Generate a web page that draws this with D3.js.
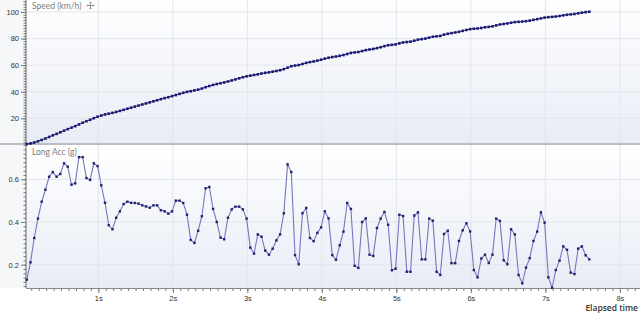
<!DOCTYPE html>
<html lang="en">
<head>
<meta charset="UTF-8">
<title>Speed / Long Acc</title>
<script src="https://d3js.org/d3.v7.min.js"></script>
<style>
  body { margin: 0; background: #fff; }
  svg { display: block; font-family: "Open Sans", "Noto Sans", sans-serif; }
  .tick-label { font-size: 7.5px; fill: #333; }
  .panel-title { font-family: Lato, "Noto Sans", sans-serif; font-size: 8.5px; fill: #808080; }
</style>
</head>
<body>
<svg width="640" height="313"></svg>
<script>
// sampling: 20 Hz, first sample at 0.04 s
const t0 = 0.04, dt = 0.05;

// Speed (km/h), one value per sample
const speed = [
  0.6, 1.1, 1.8, 2.7, 3.7, 4.8, 6.0, 7.2, 8.3, 9.5,
  10.7, 11.9, 13.0, 14.1, 15.4, 16.7, 17.8, 18.9, 20.1, 21.2,
  22.1, 22.9, 23.5, 24.1, 24.8, 25.6, 26.4, 27.2, 28.0, 28.8,
  29.6, 30.4, 31.2, 32.0, 32.8, 33.6, 34.4, 35.2, 35.9, 36.7,
  37.5, 38.4, 39.2, 39.9, 40.4, 41.0, 41.6, 42.4, 43.4, 44.3,
  45.1, 45.8, 46.4, 47.0, 47.7, 48.5, 49.3, 50.1, 50.9, 51.6,
  52.1, 52.6, 53.1, 53.7, 54.2, 54.6, 55.1, 55.6, 56.2, 57.0,
  58.1, 59.2, 59.7, 60.1, 60.9, 61.7, 62.3, 62.8, 63.4, 64.1,
  64.9, 65.6, 66.1, 66.5, 67.0, 67.6, 68.4, 69.2, 69.6, 69.9,
  70.6, 71.3, 71.8, 72.2, 72.8, 73.5, 74.3, 75.0, 75.3, 75.6,
  76.4, 77.1, 77.4, 77.7, 78.4, 79.2, 79.6, 80.0, 80.7, 81.4,
  81.7, 82.0, 83.0, 83.6, 84.1, 84.6, 85.1, 85.8, 86.5, 87.1,
  87.4, 87.6, 88.0, 88.5, 88.8, 89.2, 89.9, 90.6, 91.0, 91.4,
  91.9, 92.4, 92.6, 92.8, 93.1, 93.5, 94.1, 94.6, 95.2, 95.8,
  96.1, 96.3, 96.6, 97.0, 97.5, 97.9, 98.2, 98.5, 99.0, 99.5,
  99.9, 100.2
];

// Longitudinal acceleration (g), one value per sample
const longAcc = [
  0.13, 0.211, 0.325, 0.416, 0.495, 0.551, 0.612, 0.634, 0.612, 0.625,
  0.675, 0.659, 0.575, 0.581, 0.704, 0.704, 0.606, 0.597, 0.675, 0.662,
  0.572, 0.49, 0.385, 0.366, 0.42, 0.45, 0.484, 0.495, 0.49, 0.489,
  0.486, 0.478, 0.473, 0.467, 0.478, 0.478, 0.455, 0.45, 0.439, 0.45,
  0.5, 0.5, 0.489, 0.434, 0.316, 0.302, 0.359, 0.427, 0.558, 0.564,
  0.461, 0.4, 0.327, 0.319, 0.42, 0.459, 0.472, 0.472, 0.459, 0.416,
  0.28, 0.252, 0.342, 0.331, 0.266, 0.247, 0.275, 0.314, 0.342, 0.441,
  0.67, 0.634, 0.245, 0.202, 0.441, 0.466, 0.325, 0.31, 0.349, 0.375,
  0.45, 0.417, 0.245, 0.223, 0.291, 0.355, 0.489, 0.461, 0.195, 0.185,
  0.4, 0.417, 0.247, 0.241, 0.372, 0.416, 0.447, 0.387, 0.174, 0.181,
  0.434, 0.428, 0.167, 0.167, 0.43, 0.445, 0.225, 0.225, 0.416, 0.406,
  0.167, 0.152, 0.344, 0.359, 0.207, 0.207, 0.311, 0.361, 0.394, 0.356,
  0.175, 0.141, 0.229, 0.247, 0.208, 0.247, 0.416, 0.405, 0.221, 0.202,
  0.366, 0.342, 0.152, 0.113, 0.186, 0.231, 0.311, 0.355, 0.445, 0.397,
  0.141, 0.092, 0.175, 0.219, 0.286, 0.27, 0.163, 0.156, 0.275, 0.286,
  0.244, 0.225
];

const speedTicks = [20, 40, 60, 80, 100];
const accTicks = [0.2, 0.4, 0.6];
const timeTicks = [1, 2, 3, 4, 5, 6, 7, 8];

const W = 640, H = 313;
const axisX = 26;
const svg = d3.select("svg");

const samples = speed.map((v, i) => ({ t: t0 + i * dt, speed: v, acc: longAcc[i] }));

const x = d3.scaleLinear().domain([0, 8.27]).range([23.8, 640]);
const ySpeed = d3.scaleLinear().domain([0, 100]).range([144.9, 12]);
const yAcc = d3.scaleLinear().domain([0.2, 0.6]).range([264.7, 179.3]);

const panelTop = { y0: 0, y1: 143 };
const panelBot = { y0: 145, y1: 288 };

// background gradients
const defs = svg.append("defs");
const grad = defs.append("linearGradient").attr("id", "bg").attr("x1", 0).attr("y1", 0).attr("x2", 0).attr("y2", 1);
grad.append("stop").attr("offset", "0%").attr("stop-color", "#ffffff");
grad.append("stop").attr("offset", "100%").attr("stop-color", "#e8ecf5");

svg.append("rect").attr("width", W).attr("height", H).attr("fill", "#f6f7f9");
svg.append("rect").attr("x", 0).attr("y", panelBot.y1).attr("width", W).attr("height", H - panelBot.y1).attr("fill", "#ffffff");

[panelTop, panelBot].forEach(p => {
  svg.append("rect").attr("x", axisX).attr("y", p.y0).attr("width", W - axisX).attr("height", p.y1 - p.y0).attr("fill", "url(#bg)");
});

// vertical grid
[panelTop, panelBot].forEach(p => {
  svg.append("g").selectAll("line").data(timeTicks).join("line")
    .attr("x1", d => x(d)).attr("x2", d => x(d))
    .attr("y1", p.y0).attr("y2", p.y1)
    .attr("stroke", "#e2e5ec").attr("stroke-width", 1);
});

// horizontal grid
svg.append("g").selectAll("line").data(speedTicks).join("line")
  .attr("x1", axisX).attr("x2", W).attr("y1", d => ySpeed(d)).attr("y2", d => ySpeed(d))
  .attr("stroke", "#e2e5ec");
svg.append("g").selectAll("line").data(accTicks).join("line")
  .attr("x1", axisX).attr("x2", W).attr("y1", d => yAcc(d)).attr("y2", d => yAcc(d))
  .attr("stroke", "#e2e5ec");

// panel separator
svg.append("line").attr("x1", 0).attr("x2", W).attr("y1", 144).attr("y2", 144)
  .attr("stroke", "#b9bcc4").attr("stroke-width", 2);

// y axes
const speedAxis = d3.axisLeft(ySpeed).tickValues(speedTicks).tickSize(5).tickPadding(2).tickFormat(d3.format("d"));
const speedMinor = d3.axisLeft(ySpeed).tickValues(d3.range(0, 109, 2)).tickSize(2.5).tickFormat("");
const accAxis = d3.axisLeft(yAcc).tickValues(accTicks).tickSize(5).tickPadding(2).tickFormat(d3.format(".1f"));
const accMinor = d3.axisLeft(yAcc).tickValues(d3.range(0.1, 0.76, 0.02)).tickSize(2.5).tickFormat("");

function styleAxis(g) {
  g.select(".domain").remove();
  g.selectAll("line").attr("stroke", "#777");
  g.selectAll("text").attr("class", "tick-label");
}

svg.append("g").attr("transform", `translate(${axisX},0)`).call(speedMinor).call(styleAxis);
svg.append("g").attr("transform", `translate(${axisX},0)`).call(speedAxis).call(styleAxis);
svg.append("g").attr("transform", `translate(${axisX},0)`).call(accMinor).call(styleAxis);
svg.append("g").attr("transform", `translate(${axisX},0)`).call(accAxis).call(styleAxis);

// y axis line
svg.append("line").attr("x1", axisX).attr("x2", axisX).attr("y1", 0).attr("y2", panelBot.y1)
  .attr("stroke", "#666").attr("stroke-width", 1);

// x axis
const timeMinor = d3.axisBottom(x).tickValues(d3.range(0.1, 8.25, 0.1)).tickSize(3).tickFormat("");
const timeAxis = d3.axisBottom(x).tickValues(timeTicks).tickSize(5).tickPadding(3).tickFormat(d => d + "s");
svg.append("g").attr("transform", `translate(0,${panelBot.y1})`).call(timeMinor).call(styleAxis);
svg.append("g").attr("transform", `translate(0,${panelBot.y1})`).call(timeAxis).call(styleAxis);
svg.append("line").attr("x1", axisX).attr("x2", W).attr("y1", panelBot.y1 + 0.5).attr("y2", panelBot.y1 + 0.5)
  .attr("stroke", "#888");

// panel titles (drawn under the series, as in the original)
const speedTitle = svg.append("text").attr("class", "panel-title").attr("x", 32).attr("y", 9)
  .text("Speed (km/h)");
svg.append("text").attr("class", "panel-title").attr("x", 32).attr("y", 155)
  .text("Long Acc (g)");

// small "move" icon next to the speed title
const iconX = 32 + speedTitle.node().getComputedTextLength() + 9;
const icon = svg.append("g").attr("transform", `translate(${iconX},5.5)`)
  .attr("stroke", "#8a8a8a").attr("stroke-width", 0.9).attr("fill", "none");
icon.append("path").attr("d", "M-3.5,0H3.5M0,-3.5V3.5");
icon.append("path").attr("d", "M-2.5,-1L-3.5,0L-2.5,1M2.5,-1L3.5,0L2.5,1M-1,-2.5L0,-3.5L1,-2.5M-1,2.5L0,3.5L1,2.5");

// speed line + markers
svg.append("path").datum(samples)
  .attr("fill", "none").attr("stroke", "#20207a").attr("stroke-width", 1)
  .attr("d", d3.line().x(d => x(d.t)).y(d => ySpeed(d.speed)));
svg.append("g").selectAll("rect").data(samples).join("rect")
  .attr("x", d => x(d.t) - 1.3).attr("y", d => ySpeed(d.speed) - 1.3)
  .attr("width", 2.6).attr("height", 2.6).attr("fill", "#1a1a70");

// long acc line + markers
svg.append("path").datum(samples)
  .attr("fill", "none").attr("stroke", "#7676bf").attr("stroke-width", 1.1)
  .attr("d", d3.line().x(d => x(d.t)).y(d => yAcc(d.acc)));
svg.append("g").selectAll("rect").data(samples).join("rect")
  .attr("x", d => x(d.t) - 1.2).attr("y", d => yAcc(d.acc) - 1.2)
  .attr("width", 2.4).attr("height", 2.4).attr("fill", "#22226e");

svg.append("text").attr("x", 638).attr("y", 311).attr("text-anchor", "end")
  .attr("font-size", 8.5).attr("font-weight", 600).attr("fill", "#333")
  .text("Elapsed time");
</script>
</body>
</html>
